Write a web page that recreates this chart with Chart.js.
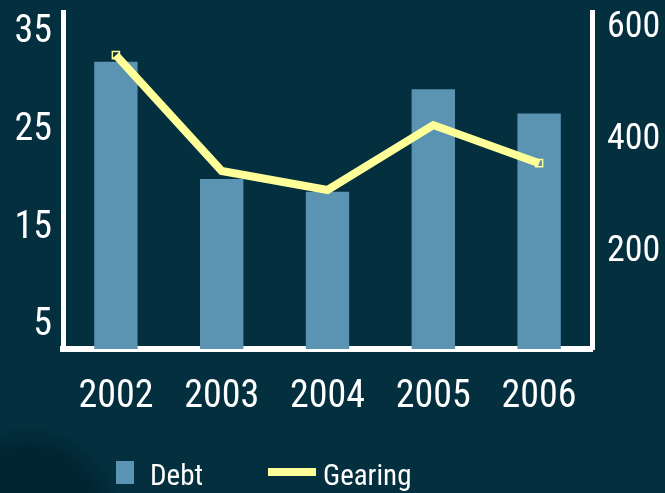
<!DOCTYPE html>
<html>
<head>
<meta charset="utf-8">
<script src="https://cdn.jsdelivr.net/npm/chart.js@4"></script>
<style>
html,body{margin:0;padding:0;}
body{width:665px;height:493px;overflow:hidden;position:relative;
background:radial-gradient(circle at 28px 520px, #012532 0px, #012532 70px, #032f3e 95px, #032f3e 100%);}
#wrap{position:absolute;left:0;top:0;width:665px;height:493px;}
#legend{position:absolute;left:0;top:0;width:665px;height:493px;pointer-events:none;
font-family:"Roboto Condensed","Liberation Sans",sans-serif;color:#fff;font-size:29px;}
.sw{position:absolute;}
.lt{position:absolute;line-height:1;}
</style>
</head>
<body>
<div id="wrap"><canvas id="c" width="665" height="493"></canvas></div>
<div id="legend">
  <div class="sw" style="left:116px;top:461px;width:18px;height:23px;background:#5b93b2;"></div>
  <div class="lt" style="left:150px;top:461px;">Debt</div>
  <div class="sw" style="left:268px;top:468px;width:48px;height:8px;background:#ffff99;"></div>
  <div class="lt" style="left:323px;top:461px;">Gearing</div>
</div>
<script>
const categories = ["2002","2003","2004","2005","2006"];
const debt = [31.4, 19.4, 18.1, 28.6, 26.1];
const gearing = [547, 340, 306, 422, 354];
const leftTicks = [5, 15, 25, 35];
const rightTicks = [200, 400, 600];

const FONT = '"Roboto Condensed","Liberation Sans",sans-serif';

new Chart(document.getElementById('c'), {
  data: {
    labels: categories,
    datasets: [
      {
        type: 'line', label: 'Gearing', data: gearing, yAxisID: 'yR',
        borderColor: '#ffff99', backgroundColor: 'rgba(0,0,0,0)', borderWidth: 8,
        pointStyle: 'rect', pointRadius: [5,0,0,0,5], pointBorderColor: '#ffff99',
        pointBorderWidth: 1.5, pointBackgroundColor: 'rgba(0,0,0,0)',
        tension: 0, order: 0
      },
      {
        type: 'bar', label: 'Debt', data: debt, yAxisID: 'yL',
        backgroundColor: '#5b93b2', borderWidth: 0,
        barPercentage: 0.41, categoryPercentage: 1.0, order: 1
      }
    ]
  },
  options: {
    responsive: false, animation: false,
    layout: { padding: { top: 12, left: 0, right: 0, bottom: 0 } },
    plugins: { legend: { display: false }, tooltip: { enabled: false } },
    scales: {
      x: {
        offset: true,
        grid: { display: false, drawTicks: false },
        border: { display: true, color: '#ffffff', width: 6 },
        ticks: { color: '#ffffff', font: { family: FONT, size: 38 }, padding: 26, maxRotation: 0 },
        afterFit: s => { s.height = 144; s.paddingLeft = 0; s.paddingRight = 0; }
      },
      yL: {
        position: 'left', min: 2, max: 36.5,
        grid: { display: false, drawTicks: false },
        border: { display: true, color: '#ffffff', width: 5 },
        afterBuildTicks: s => { s.ticks = leftTicks.map(v => ({ value: v })); },
        ticks: { color: '#ffffff', font: { family: FONT, size: 38 }, padding: 11, labelOffset: 6 },
        afterFit: s => { s.width = 63; s.paddingTop = 0; s.paddingBottom = 0; }
      },
      yR: {
        position: 'right', min: 22, max: 624,
        grid: { display: false, drawTicks: false },
        border: { display: true, color: '#ffffff', width: 5 },
        afterBuildTicks: s => { s.ticks = rightTicks.map(v => ({ value: v })); },
        ticks: { color: '#ffffff', font: { family: FONT, size: 36 }, padding: 15, labelOffset: 3 },
        afterFit: s => { s.width = 73; s.paddingTop = 0; s.paddingBottom = 0; }
      }
    }
  }
});
</script>
</body>
</html>
